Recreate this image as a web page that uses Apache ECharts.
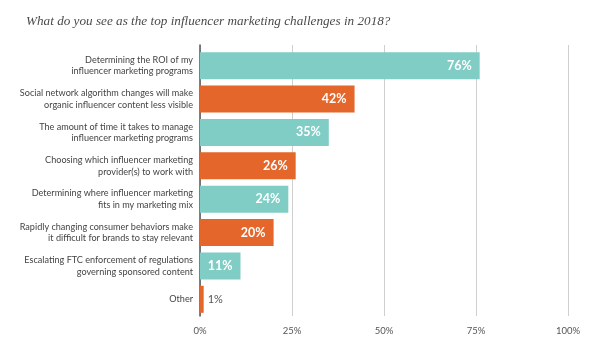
<!DOCTYPE html>
<html><head><meta charset="utf-8">
<script src="https://cdn.jsdelivr.net/npm/echarts@6/dist/echarts.min.js"></script>
<style>html,body{margin:0;padding:0;background:#fff}#c{width:600px;height:362px}</style>
</head><body><div id="c"></div>
<script>
const categories = [
  "Determining the ROI of my\ninfluencer marketing programs",
  "Social network algorithm changes will make\norganic influencer content less visible",
  "The amount of time it takes to manage\ninfluencer marketing programs",
  "Choosing which influencer marketing\nprovider(s) to work with",
  "Determining where influencer marketing\nfits in my marketing mix",
  "Rapidly changing consumer behaviors make\nit difficult for brands to stay relevant",
  "Escalating FTC enforcement of regulations\ngoverning sponsored content",
  "Other"
];
const values = [76, 42, 35, 26, 24, 20, 11, 1];
const tickValues = [0, 25, 50, 75, 100];
const titleText = "What do you see as the top influencer marketing challenges in 2018?";

const TEAL = "#80cdc5", ORANGE = "#e4662a";
const chart = echarts.init(document.getElementById('c'), null, {renderer: 'canvas'});
chart.setOption({
  animation: false,
  title: {
    text: titleText, left: 21, top: 10,
    textStyle: {fontFamily: "Liberation Serif", fontStyle: "italic", fontWeight: "normal", fontSize: 13.2, color: "#4a4a4a"}
  },
  grid: [
    {left: 200, right: 32, top: 49, bottom: 46, containLabel: false},
    {left: 200, right: 32, top: 45, bottom: 46, containLabel: false}
  ],
  xAxis: [
    {gridIndex: 0, type: 'value', min: 0, max: 100, interval: 25, show: false},
    {gridIndex: 1, type: 'value', min: 0, max: 100, interval: 25,
     axisLine: {show: false}, axisTick: {show: false},
     splitLine: {show: true, lineStyle: {color: "#cfcfcf", width: 1}},
     axisLabel: {formatter: v => tickValues.includes(v) ? v + "%" : "", color: "#555", fontSize: 9.5, fontFamily: "Lato", margin: 10}}
  ],
  yAxis: [
    {gridIndex: 0, type: 'category', data: categories, inverse: true,
     axisLine: {show: false}, axisTick: {show: false}, splitLine: {show: false},
     axisLabel: {color: "#444", fontSize: 9.1, fontFamily: "Lato", lineHeight: 11.5, margin: 7, align: 'right'}},
    {gridIndex: 1, type: 'value', min: 0, max: 1, show: true,
     axisLine: {show: true, lineStyle: {color: "#555", width: 1.5}},
     axisTick: {show: false}, axisLabel: {show: false}, splitLine: {show: false}}
  ],
  series: [{
    type: 'bar', xAxisIndex: 0, yAxisIndex: 0, barWidth: 27,
    data: values.map((v, i) => ({
      value: v,
      itemStyle: {color: i % 2 === 0 ? TEAL : ORANGE},
      label: v < 5 ? {position: 'right', color: "#555", fontWeight: 'normal', fontSize: 11, distance: 4} : {}
    })),
    label: {show: true, position: 'insideRight', distance: 8, formatter: p => p.value + "%",
            color: "#fff", fontWeight: 'bold', fontSize: 12.5, fontFamily: "Lato"},
    z: 3
  }]
});
</script></body></html>
